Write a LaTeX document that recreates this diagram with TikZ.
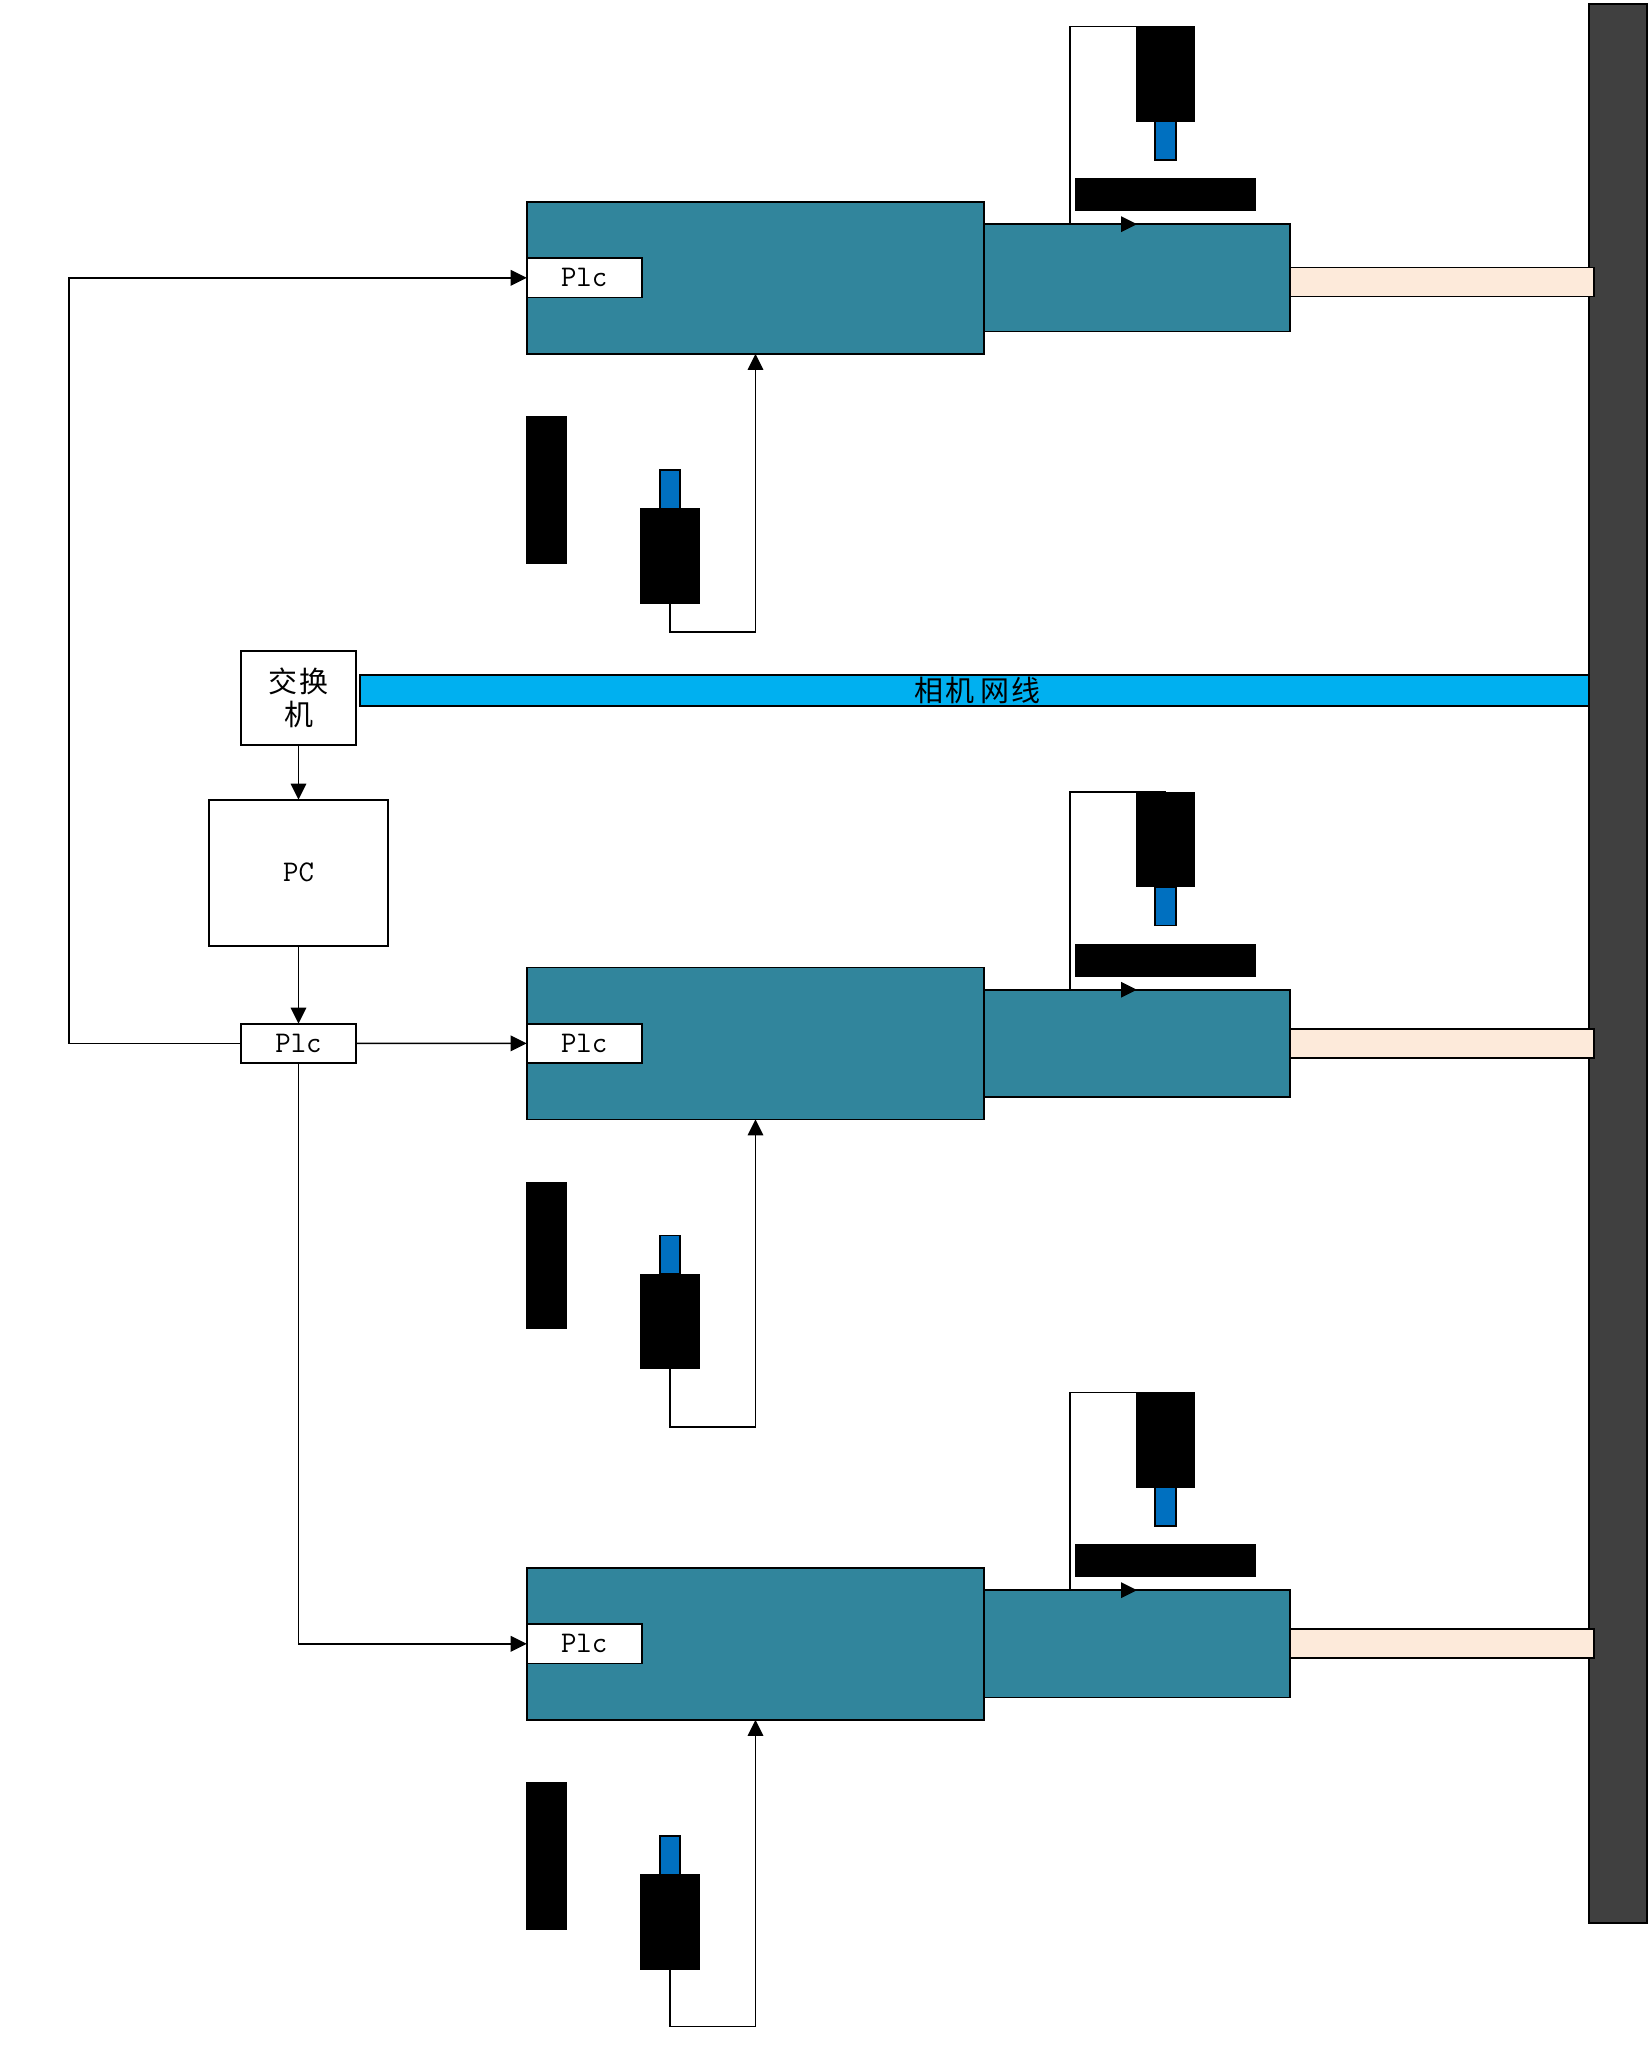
\documentclass[tikz,border=0pt]{standalone}
\usepackage{fontspec}
\usepackage{tikz}
\usetikzlibrary{arrows.meta,positioning}
\newfontfamily\cjk[LetterSpace=8]{Noto Sans CJK SC}
\definecolor{Ink}{HTML}{000000}
\definecolor{Steel}{HTML}{31859C}
\definecolor{Sky}{HTML}{00B0F0}
\definecolor{Cobalt}{HTML}{0070C0}
\definecolor{Peach}{HTML}{FDEADA}
\definecolor{Graphite}{HTML}{404040}

\begin{document}
\begin{tikzpicture}[x=1pt, y=-1pt, line width=1.7pt, every node/.style={align=center, inner sep=0pt, outer sep=0pt},
    shape box/.style={draw=Ink, rectangle},
    mainbox/.style={shape box, fill=Steel, minimum width=457.6pt, minimum height=152pt},
    sidebox/.style={shape box, fill=Steel, minimum width=305.4pt, minimum height=107.2pt},
    rodbox/.style={shape box, fill=Peach, minimum width=304.3pt, minimum height=29pt},
    plcbox/.style={shape box, fill=white, minimum width=115pt, minimum height=39.3pt, font=\ttfamily\fontsize{30}{34}\selectfont},
    camdark/.style={shape box, line width=.8pt, fill=Ink, minimum width=58.5pt, minimum height=94.6pt},
    camtip/.style={shape box, fill=Cobalt, minimum width=20.4pt, minimum height=38.6pt},
    hbar/.style={shape box, line width=.8pt, fill=Ink, minimum width=179.6pt, minimum height=32pt},
    vbar/.style={shape box, line width=.8pt, fill=Ink, minimum width=39.5pt, minimum height=146.5pt},
    flow/.style={-{Triangle[length=16pt,width=15.5pt]}, draw=Ink}]
      \useasboundingbox (0,0) rectangle (1649,2048);

      \node[shape box, fill=Graphite, minimum width=58pt, minimum height=1918.7pt] (wall) at (1617.7,963.35) {};
      \node[shape box, fill=Sky, minimum width=1228.7pt, minimum height=31.6pt, font=\cjk\fontsize{29}{33}\selectfont] (cable) at (974.35,690.5) {\kern6pt相机\kern6pt网线};

      \node[shape box, fill=white, minimum width=115pt, minimum height=94pt, font=\cjk\fontsize{29}{33}\selectfont] (switch) at (298.5,698.3) {交换\\机};
      \node[shape box, fill=white, minimum width=179pt, minimum height=146pt, font=\ttfamily\fontsize{30}{34}\selectfont, below=54.4pt of switch] (pc) {PC};
      \node[plcbox, below=78pt of pc] (plc0) {Plc};

      % top row
      \node[mainbox] (main1) at (755.5,277.8) {};
      \node[plcbox, anchor=west] (plc1) at (main1.west) {Plc};
      \node[sidebox, right=0pt of main1] (side1) {};
      \node[rodbox, right=0pt of side1, yshift=-4.3pt] (rod1) {};
      \node[hbar, above=13.8pt of side1, xshift=28.5pt] (hbar1) {};
      \node[camtip, above=18.6pt of hbar1] (tip1) {};
      \node[camdark, above=0pt of tip1] (cam1) {};
      \node[vbar, below=62.9pt of main1.south west, xshift=19.5pt] (vbar1) {};
      \node[camtip, below=116.2pt of main1.south, xshift=-85.6pt] (lowtip1) {};
      \node[camdark, below=0pt of lowtip1] (lowcam1) {};
      \coordinate[left=95.5pt of cam1.north] (turn1);
      \coordinate[below=28.7pt of lowcam1.south] (lowturn1);

      % middle row
      \node[mainbox] (main2) at (755.5,1043.35) {};
      \node[plcbox, anchor=west] (plc2) at (main2.west) {Plc};
      \node[sidebox, right=0pt of main2] (side2) {};
      \node[rodbox, right=0pt of side2] (rod2) {};
      \node[hbar, above=13.8pt of side2, xshift=28.5pt] (hbar2) {};
      \node[camtip, above=18.6pt of hbar2] (tip2) {};
      \node[camdark, above=0pt of tip2] (cam2) {};
      \node[vbar, below=62.9pt of main2.south west, xshift=19.5pt] (vbar2) {};
      \node[camtip, below=116.2pt of main2.south, xshift=-85.6pt] (lowtip2) {};
      \node[camdark, below=0pt of lowtip2] (lowcam2) {};
      \coordinate[left=95.5pt of cam2.north] (turn2);
      \coordinate[below=58pt of lowcam2.south] (lowturn2);

      % bottom row
      \node[mainbox] (main3) at (755.5,1643.8) {};
      \node[plcbox, anchor=west] (plc3) at (main3.west) {Plc};
      \node[sidebox, right=0pt of main3] (side3) {};
      \node[rodbox, right=0pt of side3] (rod3) {};
      \node[hbar, above=13.8pt of side3, xshift=28.5pt] (hbar3) {};
      \node[camtip, above=18.6pt of hbar3] (tip3) {};
      \node[camdark, above=0pt of tip3] (cam3) {};
      \node[vbar, below=62.9pt of main3.south west, xshift=19.5pt] (vbar3) {};
      \node[camtip, below=116.2pt of main3.south, xshift=-85.6pt] (lowtip3) {};
      \node[camdark, below=0pt of lowtip3] (lowcam3) {};
      \coordinate[left=95.5pt of cam3.north] (turn3);
      \coordinate[below=57.3pt of lowcam3.south] (lowturn3);

      \coordinate[left=172pt of plc0.west] (leftturn);

      \draw[flow] (switch) -- (pc);
      \draw[flow] (pc) -- (plc0);
      \draw[flow] (plc0) -- (plc2);
      \draw[flow] (plc0.west) -- (leftturn) |- (plc1.west);
      \draw[flow] (plc0.south) |- (plc3.west);

      \draw[flow] (cam1.north) -- (turn1) |- (side1.north);
      \draw[flow] (cam2.north) -- (turn2) |- (side2.north);
      \draw[flow] (cam3.north) -- (turn3) |- (side3.north);
      \draw[flow] (lowcam1.south) -- (lowturn1) -| (main1.south);
      \draw[flow] (lowcam2.south) -- (lowturn2) -| (main2.south);
      \draw[flow] (lowcam3.south) -- (lowturn3) -| (main3.south);
    \end{tikzpicture}
\end{document}
